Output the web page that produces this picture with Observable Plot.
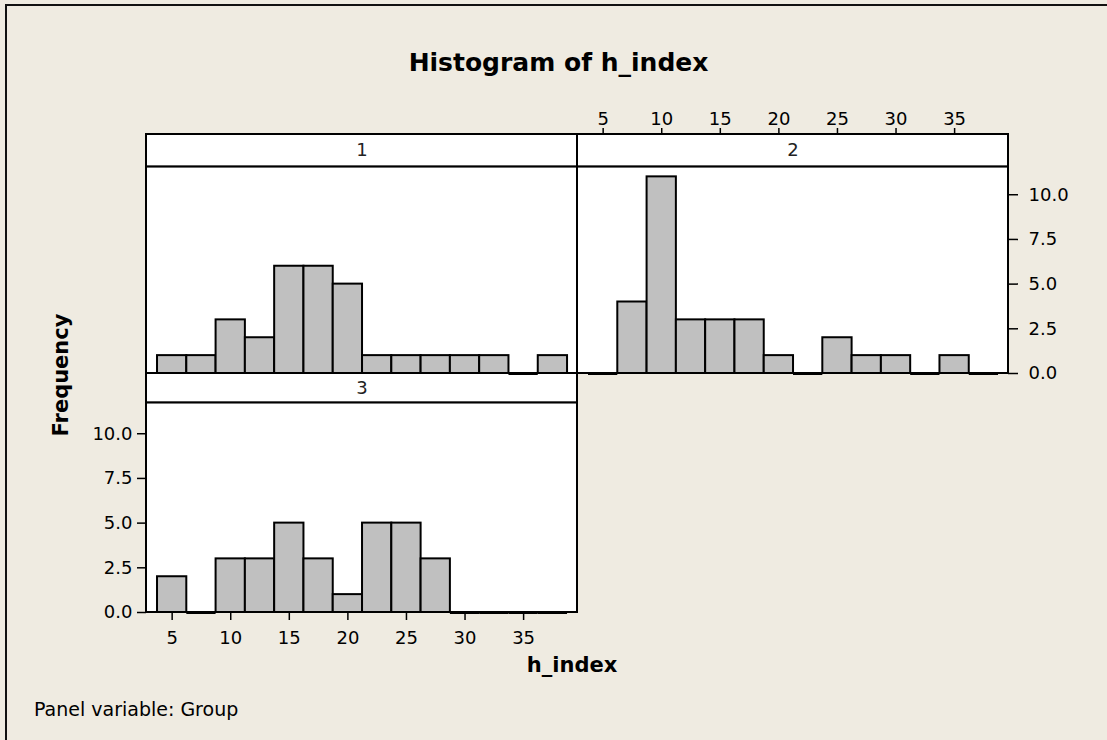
<!DOCTYPE html>
<html>
<head>
<meta charset="utf-8">
<script src="https://cdn.jsdelivr.net/npm/d3@7"></script>
<script src="https://cdn.jsdelivr.net/npm/@observablehq/plot@0.6"></script>
<style>
  html, body { margin: 0; padding: 0; background: #EFEBE1; width: 1107px; height: 740px; overflow: hidden; font-family: "DejaVu Sans", sans-serif; color: #000; }
  #border { position: absolute; left: 5px; top: 4px; width: 1300px; height: 900px; border-left: 2px solid #111; border-top: 2px solid #111; }
  #title { position: absolute; left: 5px; width: 1107px; top: 50px; text-align: center; font-weight: bold; font-size: 25px; line-height: 25px; }
  #chart { position: absolute; left: 0; top: 0; }
  #xlabel { position: absolute; left: 472px; width: 200px; top: 655px; text-align: center; font-weight: bold; font-size: 21px; line-height: 21px; }
  #ylabel { position: absolute; left: -39px; top: 363px; width: 200px; height: 24px; line-height: 24px; text-align: center; font-weight: bold; font-size: 21px; transform: rotate(-90deg); }
  #caption { position: absolute; left: 34px; top: 700px; font-size: 19px; line-height: 19px; }
</style>
</head>
<body>
<div id="border"></div>
<div id="title">Histogram of h_index</div>
<div id="chart"></div>
<div id="xlabel">h_index</div>
<div id="ylabel">Frequency</div>
<div id="caption">Panel variable: Group</div>
<script>
// ---- data ----
const groups = ["1", "2", "3"];
const binMids = [5, 7.5, 10, 12.5, 15, 17.5, 20, 22.5, 25, 27.5, 30, 32.5, 35, 37.5];
const binWidth = 2.5;
const counts1 = [1, 1, 3, 2, 6, 6, 5, 1, 1, 1, 1, 1, 0, 1];
const counts2 = [0, 4, 11, 3, 3, 3, 1, 0, 2, 1, 1, 0, 1, 0];
const counts3 = [2, 0, 3, 3, 5, 3, 1, 5, 5, 3, 0, 0, 0, 0];
const xTicks = [5, 10, 15, 20, 25, 30, 35];
const yTicks = [0, 2.5, 5, 7.5, 10];
const yTickLabels = ["0.0", "2.5", "5.0", "7.5", "10.0"];

// ---- layout (panel grid & scale extents) ----
const xDomain = [2.81, 39.6];
const yTop = 13.37;              // top of strip
const panelCol = {"1": 0, "2": 1, "3": 0};
const panelRow = {"1": 0, "2": 0, "3": 1};
const plotTop = {"1": 11.56, "2": 11.56, "3": 11.73};
const countsBy = {"1": counts1, "2": counts2, "3": counts3};

const panels = groups.map(g => ({
  group: g, col: panelCol[g], row: panelRow[g],
  x1: xDomain[0], x2: xDomain[1], xm: (xDomain[0] + xDomain[1]) / 2,
  top: plotTop[g], stripMid: (plotTop[g] + yTop) / 2, yTop
}));

const bars = groups.flatMap(g => binMids.map((m, i) => ({
  group: g, col: panelCol[g], row: panelRow[g],
  x1: m - binWidth / 2, x2: m + binWidth / 2, count: countsBy[g][i]
})));

const topAxis = xTicks.map(v => ({v, col: 1, row: 0, y: yTop}));
const bottomAxis = xTicks.map(v => ({v, col: 0, row: 1, y: 0}));
const rightAxis = yTicks.map((v, i) => ({v, label: yTickLabels[i], col: 1, row: 0, x: xDomain[1]}));
const leftAxis = yTicks.map((v, i) => ({v, label: yTickLabels[i], col: 0, row: 1, x: xDomain[0]}));

const W = 1107, H = 660;
const mLeft = 145, facetW = 863, mTop = 133.5, facetH = 478.8;

const fxy = {fx: "col", fy: "row"};
const chart = Plot.plot({
  width: W, height: H,
  marginLeft: mLeft, marginRight: W - mLeft - facetW,
  marginTop: mTop, marginBottom: H - mTop - facetH,
  x: {domain: xDomain, axis: null},
  y: {domain: [0, yTop], axis: null},
  fx: {domain: [0, 1], axis: null, padding: 0},
  fy: {domain: [0, 1], axis: null, padding: 0},
  style: {background: "transparent", fontFamily: "DejaVu Sans", fontSize: "18px", color: "black"},
  marks: [
    // panel frames
    Plot.rect(panels, {...fxy, x1: "x1", x2: "x2", y1: 0, y2: "top", fill: "white", stroke: "black", strokeWidth: 2}),
    // strips
    Plot.rect(panels, {...fxy, x1: "x1", x2: "x2", y1: "top", y2: "yTop", fill: "white", stroke: "black", strokeWidth: 2}),
    Plot.text(panels, {...fxy, x: "xm", y: "stripMid", text: "group", fontSize: 18, fill: "#222"}),
    // bars
    Plot.rect(bars.filter(d => d.count > 0), {...fxy, x1: "x1", x2: "x2", y1: 0, y2: "count", fill: "#C0C0C0", stroke: "black", strokeWidth: 2}),
    Plot.ruleY(bars.filter(d => d.count === 0), {...fxy, x1: "x1", x2: "x2", y: 0, stroke: "black", strokeWidth: 3}),
    // top x axis (panel 2)
    Plot.ruleX(topAxis, {...fxy, x: "v", y1: "y", y2: "y", insetTop: -6, stroke: "black", strokeWidth: 1.5}),
    Plot.text(topAxis, {...fxy, x: "v", y: "y", text: d => String(d.v), lineAnchor: "bottom", dy: -10, fontSize: 18}),
    // bottom x axis (panel 3)
    Plot.ruleX(bottomAxis, {...fxy, x: "v", y1: "y", y2: "y", insetBottom: -8, stroke: "black", strokeWidth: 1.5}),
    Plot.text(bottomAxis, {...fxy, x: "v", y: "y", text: d => String(d.v), lineAnchor: "top", dy: 19, fontSize: 18}),
    // right y axis (panel 2)
    Plot.ruleY(rightAxis, {...fxy, y: "v", x1: "x", x2: "x", insetRight: -10, stroke: "black", strokeWidth: 1.5}),
    Plot.text(rightAxis, {...fxy, x: "x", y: "v", text: "label", textAnchor: "start", dx: 20, fontSize: 18}),
    // left y axis (panel 3)
    Plot.ruleY(leftAxis, {...fxy, y: "v", x1: "x", x2: "x", insetLeft: -9, stroke: "black", strokeWidth: 1.5}),
    Plot.text(leftAxis, {...fxy, x: "x", y: "v", text: "label", textAnchor: "end", dx: -14, fontSize: 18})
  ]
});
document.getElementById("chart").appendChild(chart);
</script>
</body>
</html>
